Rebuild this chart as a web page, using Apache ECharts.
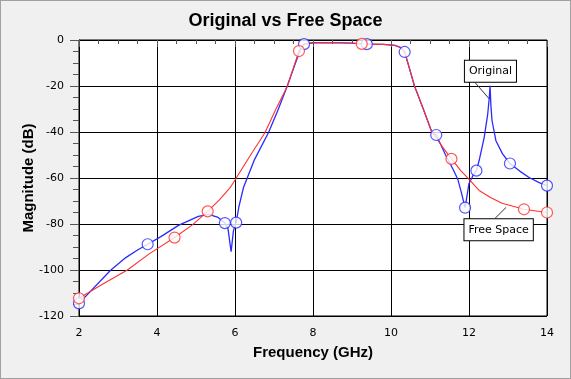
<!DOCTYPE html>
<html><head><meta charset="utf-8">
<script src="https://cdn.jsdelivr.net/npm/echarts@6/dist/echarts.min.js"></script>
<style>
html,body{margin:0;padding:0;background:#f0f0f0;}
#c{width:571px;height:379px;box-sizing:border-box;border:1px solid #a0a0a0;}
</style></head>
<body><div id="c"></div>
<script>
// ---- data ----
const origFreq = [2.0,2.81,3.2,3.5,3.76,4.1,4.55,5.06,5.32,5.55,5.74,5.82,5.9,5.96,6.03,6.1,6.22,6.5,6.86,7.1,7.34,7.55,7.68,7.77,8.0,8.5,9.0,9.38,9.8,10.1,10.25,10.35,10.45,10.6,10.85,11.05,11.16,11.4,11.6,11.71,11.8,11.9,12.0,12.1,12.19,12.26,12.39,12.48,12.52,12.54,12.56,12.59,12.69,12.86,13.05,13.3,13.54,13.8,14.0];
const origDb   = [-114.5,-100.1,-94.6,-91.3,-88.8,-85.5,-80.6,-76.7,-75.8,-77.0,-79.6,-82,-92,-83,-79.4,-72.5,-64,-52,-40.2,-30.5,-20,-10,-4,-1.8,-1.2,-1.1,-1.4,-1.8,-1.9,-2.3,-3.3,-5.2,-11,-19.9,-31,-40.2,-41.3,-50,-56.5,-60.4,-66,-72.9,-62.4,-59,-56.8,-52.4,-42.3,-32.2,-25,-19.9,-28,-35,-43.8,-49.5,-53.7,-57,-59.8,-62,-63.3];
const origMarkFreq = [2.0,3.76,5.74,6.03,7.77,9.38,10.35,11.16,11.9,12.19,13.05,14.0];
const origMarkDb   = [-114.5,-88.8,-79.6,-79.4,-1.8,-1.8,-5.2,-41.3,-72.9,-56.8,-53.7,-63.3];

const freeFreq = [2.0,2.6,3.23,3.8,4.45,4.9,5.3,5.6,5.88,6.02,6.4,6.77,7.05,7.34,7.5,7.64,7.8,8.0,8.5,9.0,9.25,9.8,10.1,10.25,10.35,10.45,10.6,10.85,11.05,11.3,11.55,11.8,11.99,12.26,12.55,12.85,13.41,14.0];
const freeDb   = [-112.3,-106.2,-100.1,-93,-85.9,-80.5,-74.5,-69.5,-64.1,-60.3,-50,-40.2,-30,-20.2,-12,-4.8,-1.6,-1.2,-1.1,-1.4,-1.7,-1.9,-2.3,-3.3,-5.2,-11,-19.9,-31,-40.2,-46,-51.7,-57,-60.4,-65.4,-68.5,-71,-73.6,-75];
const freeMarkFreq = [2.0,4.45,5.3,7.64,9.25,11.55,13.41,14.0];
const freeMarkDb   = [-112.3,-85.9,-74.5,-4.8,-1.7,-51.7,-73.6,-75];

const xTicks = [2,4,6,8,10,12,14];
const yTicks = [0,-20,-40,-60,-80,-100,-120];

// annotations: label position and pointer [from, to] in data coordinates
const annOrigLabel = [12.55,-13.6];
const annOrigPtr = [[12.16,-18.6],[12.52,-25.6]];
const annFreeLabel = [12.76,-82.5];
const annFreePtr = [[12.67,-77.5],[12.95,-72.8]];

const zip = (a,b)=>a.map((v,i)=>[v,b[i]]);
const BLUE='#2a2aff', RED='#ff3030';
const font='DejaVu Sans';

const chart = echarts.init(document.getElementById('c'));
function labelBox(text){
  return {show:true, formatter:text, position:'inside', color:'#000', fontFamily:font, fontSize:11,
    backgroundColor:'#fff', borderColor:'#000', borderWidth:1, padding:[5,4,5,4]};
}
chart.setOption({
  backgroundColor:'#f0f0f0',
  animation:false,
  title:{text:'Original vs Free Space', left:'center', top:6,
    textStyle:{fontFamily:'Liberation Sans', fontWeight:'bold', fontSize:18, color:'#000'}},
  grid:{left:78, right:23, top:39, bottom:62, show:true, backgroundColor:'#fff', borderColor:'#000', borderWidth:1},
  xAxis:{type:'value', min:xTicks[0], max:xTicks[xTicks.length-1], interval:2,
    name:'Frequency (GHz)', nameLocation:'middle', nameGap:29, nameMoveOverlap:false,
    nameTextStyle:{fontFamily:'Liberation Sans', fontWeight:'bold', fontSize:15, color:'#000'},
    axisLine:{show:true, lineStyle:{color:'#000'}},
    axisTick:{show:true, length:7, lineStyle:{color:'#555'}},
    minorTick:{show:true, splitNumber:4, length:4, lineStyle:{color:'#555'}},
    splitLine:{show:true, lineStyle:{color:'#000', width:1}},
    axisLabel:{fontFamily:font, fontSize:11, color:'#000', margin:12}},
  yAxis:{type:'value', min:yTicks[yTicks.length-1], max:yTicks[0], interval:20,
    name:'Magnitude (dB)', nameLocation:'middle', nameGap:43, nameRotate:90, nameMoveOverlap:false,
    nameTextStyle:{fontFamily:'Liberation Sans', fontWeight:'bold', fontSize:15, color:'#000'},
    axisLine:{show:true, lineStyle:{color:'#000'}},
    axisTick:{show:true, length:9, lineStyle:{color:'#555'}},
    minorTick:{show:true, splitNumber:4, length:6, lineStyle:{color:'#555'}},
    splitLine:{show:true, lineStyle:{color:'#000', width:1}},
    axisLabel:{fontFamily:font, fontSize:11, color:'#000', margin:15}},
  series:[
    {name:'Original', type:'line', data:zip(origFreq,origDb), showSymbol:false, symbol:'none',
      lineStyle:{color:BLUE, width:1.3}, z:3,
      markLine:{silent:true, symbol:'none', lineStyle:{color:'#333', width:1, type:'solid'}, label:{show:false},
        data:[[{coord:annOrigPtr[0]},{coord:annOrigPtr[1]}]]},
      markPoint:{silent:true, symbol:'rect', symbolSize:1, itemStyle:{color:'rgba(0,0,0,0)'},
        data:[{coord:annOrigLabel, label:labelBox('Original')}]}},
    {name:'Free Space', type:'line', data:zip(freeFreq,freeDb), showSymbol:false, symbol:'none',
      lineStyle:{color:RED, width:1.1}, z:4,
      markLine:{silent:true, symbol:'none', lineStyle:{color:'#333', width:1, type:'solid'}, label:{show:false},
        data:[[{coord:annFreePtr[0]},{coord:annFreePtr[1]}]]},
      markPoint:{silent:true, symbol:'rect', symbolSize:1, itemStyle:{color:'rgba(0,0,0,0)'},
        data:[{coord:annFreeLabel, label:labelBox('Free Space')}]}},
    {type:'scatter', data:zip(origMarkFreq,origMarkDb), symbol:'circle', symbolSize:11,
      itemStyle:{color:'#fff', borderColor:BLUE, borderWidth:1.2}, z:5},
    {type:'scatter', data:zip(freeMarkFreq,freeMarkDb), symbol:'circle', symbolSize:11,
      itemStyle:{color:'#fff', borderColor:RED, borderWidth:1.2}, z:6}
  ]
});
</script></body></html>
